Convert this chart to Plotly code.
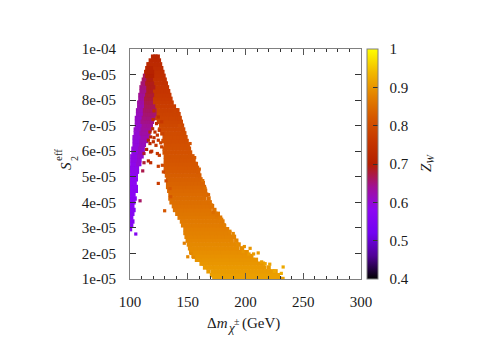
import plotly.graph_objects as go

# y values are in units of 1e-5
x_ticks = [100, 150, 200, 250, 300]
y_ticks = [1, 2, 3, 4, 5, 6, 7, 8, 9, 10]
y_labels = ['1e-05', '2e-05', '3e-05', '4e-05', '5e-05', '6e-05', '7e-05', '8e-05', '9e-05', '1e-04']
z_ticks = [0.4, 0.5, 0.6, 0.7, 0.8, 0.9, 1]
z_labels = ['\u00a0\u00a00.4', '\u00a0\u00a00.5', '\u00a0\u00a00.6', '\u00a0\u00a00.7', '\u00a0\u00a00.8', '\u00a0\u00a00.9', '\u00a0\u00a01']

# main band, one row of points per y level
band_y = [1.0, 1.15, 1.3, 1.45, 1.6, 1.75, 1.9, 2.05, 2.2, 2.35, 2.5, 2.65, 2.8, 2.95, 3.1, 3.25, 3.4, 3.55, 3.7, 3.85,
          4.0, 4.15, 4.3, 4.45, 4.6, 4.75, 4.9, 5.05, 5.2, 5.35, 5.5, 5.65, 5.8, 5.95, 6.1, 6.25, 6.4, 6.55, 6.7, 6.85,
          7.0, 7.15, 7.3, 7.45, 7.6, 7.75, 7.9, 8.05, 8.2, 8.35, 8.5, 8.65, 8.8, 8.95, 9.1, 9.25, 9.4, 9.55, 9.7]
band_z = [.912, .91, .907, .904, .901, .898, .895, .892, .889, .886, .883, .88, .877, .874, .871, .868, .865, .862, .859, .856,
          .853, .85, .847, .844, .841, .837, .833, .829, .826, .823, .82, .817, .814, .811, .808, .806, .804, .802, .799, .796,
          .792, .788, .784, .78, .776, .772, .768, .764, .76, .756, .752, .748, .744, .74, .736, .732, .727, .722, .715]
band_x = [
    [173, 176, 179, 182, 185, 188, 191, 194, 197, 200, 203, 206, 209, 212, 215, 218, 221, 224, 227, 230, 232],
    [171, 174, 177, 180, 183, 186, 189, 192, 195, 198, 201, 204, 207, 210, 213, 216, 219, 222, 225, 228],
    [168, 172, 175, 178, 181, 184, 187, 190, 193, 196, 199, 202, 205, 208, 211, 214, 217, 220, 223, 226],
    [165, 168, 171, 174, 177, 180, 183, 186, 189, 192, 195, 198, 201, 204, 207, 210, 213, 216, 220],
    [162, 164, 167, 170, 173, 176, 179, 182, 185, 188, 191, 194, 197, 200, 203, 206, 209, 212, 215],
    [158, 161, 164, 167, 170, 173, 176, 179, 182, 185, 188, 191, 194, 197, 200, 203, 206, 209],
    [155, 157, 160, 163, 166, 169, 172, 175, 178, 181, 184, 187, 190, 193, 196, 199, 202, 205],
    [153, 156, 159, 162, 165, 168, 171, 174, 177, 180, 183, 186, 189, 192, 195, 198, 201],
    [152, 154, 157, 160, 163, 166, 169, 172, 175, 178, 181, 184, 187, 190, 193, 197],
    [151, 153, 156, 159, 162, 165, 168, 171, 174, 177, 180, 183, 186, 189, 192, 194],
    [150, 152, 155, 158, 161, 164, 167, 170, 173, 176, 179, 182, 185, 188, 192],
    [149, 151, 154, 157, 160, 163, 166, 169, 172, 175, 178, 181, 184, 187, 190],
    [148, 150, 153, 156, 159, 162, 165, 168, 171, 174, 177, 180, 183, 186],
    [148, 151, 154, 157, 160, 163, 166, 169, 172, 175, 178, 181, 184],
    [146, 149, 152, 155, 158, 161, 164, 167, 170, 173, 176, 179, 181],
    [145, 147, 150, 153, 156, 159, 162, 165, 168, 171, 174, 177, 180],
    [143, 146, 149, 152, 155, 158, 161, 164, 167, 170, 173, 176, 178],
    [141, 144, 147, 150, 153, 156, 159, 162, 165, 168, 171, 174, 176],
    [139, 142, 145, 148, 151, 154, 157, 160, 163, 166, 169, 173],
    [138, 140, 143, 146, 149, 152, 155, 158, 161, 164, 167, 170, 171],
    [136, 139, 142, 145, 148, 151, 154, 157, 160, 163, 166, 169],
    [135, 137, 140, 143, 146, 149, 152, 155, 158, 161, 164, 168],
    [135, 138, 141, 144, 147, 150, 153, 156, 159, 162, 165, 166],
    [134, 136, 139, 142, 145, 148, 151, 154, 157, 160, 163, 165],
    [133, 135, 138, 141, 144, 147, 150, 153, 156, 159, 162, 164],
    [133, 136, 139, 142, 145, 148, 151, 154, 157, 160, 163],
    [133, 134, 137, 140, 143, 146, 149, 152, 155, 158, 161],
    [132, 135, 138, 141, 144, 147, 150, 153, 156, 159, 160],
    [131, 133, 136, 139, 142, 145, 148, 151, 154, 157, 159],
    [131, 134, 137, 140, 143, 146, 149, 152, 155, 158],
    [131, 132, 135, 138, 141, 144, 147, 150, 153, 156, 157],
    [131, 133, 136, 139, 142, 145, 148, 151, 154, 155],
    [131, 134, 137, 140, 143, 146, 149, 152, 154],
    [130, 132, 135, 138, 141, 144, 147, 150, 152],
    [130, 133, 136, 139, 142, 145, 148, 151],
    [131, 134, 137, 140, 143, 146, 149, 150],
    [129, 132, 135, 138, 141, 144, 147, 149],
    [130, 133, 136, 139, 142, 145, 148],
    [128, 131, 134, 137, 140, 143, 146, 147],
    [126, 129, 132, 135, 138, 141, 144, 146],
    [127, 130, 133, 136, 139, 142, 145],
    [125, 128, 131, 134, 137, 140, 143, 144],
    [123, 126, 129, 132, 135, 138, 141, 143],
    [124, 127, 130, 133, 136, 139, 142],
    [122, 125, 128, 131, 134, 137, 140, 141],
    [120, 123, 126, 129, 132, 135, 138],
    [118, 121, 124, 127, 130, 133, 136],
    [114, 117, 120, 123, 126, 129, 132, 135],
    [114, 115, 118, 121, 124, 127, 130, 133, 134],
    [114, 116, 119, 122, 125, 128, 131, 133],
    [114, 117, 120, 123, 126, 129, 132],
    [114, 115, 118, 121, 124, 127, 130, 131],
    [114, 116, 119, 122, 125, 128, 130],
    [114, 117, 120, 123, 126, 129],
    [114, 115, 118, 121, 124, 127, 128],
    [115, 116, 119, 122, 125, 127],
    [116, 117, 120, 123, 126],
    [118, 121, 123, 125],
    [120, 122, 124],
]

# left branch, violet inner part
left_y = [2.95, 3.1, 3.25, 3.4, 3.55, 3.7, 3.85, 4.0, 4.15, 4.3, 4.45, 4.6, 4.75, 4.9, 5.05, 5.2, 5.35, 5.5, 5.65, 5.8,
          5.95, 6.1, 6.25, 6.4, 6.55, 6.7, 6.85, 7.0, 7.15, 7.3, 7.45, 7.6, 7.75, 7.9, 8.05, 8.2, 8.35, 8.5, 8.65, 8.8, 8.95]
left_z = [.56, .56, .56, .565, .565, .565, .57, .57, .57, .575, .575, .575, .58, .58, .58, .585, .585, .585, .59, .59,
          .59, .595, .595, .595, .60, .60, .605, .605, .61, .61, .615, .62, .625, .63, .635, .64, .645, .65, .655, .66, .665]
left_x = [
    [100], [101], [100, 102], [101], [100, 102], [101, 103], [100, 102], [101, 103], [100, 102, 104], [101, 103],
    [100, 102, 105], [101, 103, 105], [100, 102, 104], [101, 103, 105], [101, 103, 105], [101, 103, 105, 106],
    [101, 104, 106], [102, 104, 106, 108], [102, 104, 106, 108], [102, 104, 106, 108], [103, 105, 107], [103, 105, 107, 109],
    [104, 106, 108, 110], [104, 106, 108], [104, 106, 108, 110], [105, 107, 109], [105, 107, 109], [106, 108, 110],
    [106, 108, 110], [106, 108, 110], [107, 109, 111], [107, 109, 111], [108, 110, 112], [108, 110, 112], [109, 111, 113],
    [109, 111, 113], [110, 112, 114], [110, 112, 114], [111, 113], [112, 114], [113, 115],
]

# left branch, magenta part next to the main band
mid_y = [5.5, 5.65, 5.8, 5.95, 6.1, 6.25, 6.4, 6.55, 6.7, 6.85, 7.0, 7.15, 7.3, 7.45, 7.6, 7.75, 7.9, 8.05, 8.2, 8.35, 8.5,
         8.65, 8.8, 8.95, 9.1, 9.25]
mid_z = [.60, .60, .605, .61, .61, .615, .62, .625, .63, .635, .64, .645, .65, .655, .66, .665, .67, .675, .68, .685, .69,
         .69, .695, .70, .705, .71]
mid_x = [
    [107], [108], [108, 110], [109, 111], [109, 111], [110, 112], [110, 112, 114], [111, 113, 115], [110, 112, 114, 116],
    [111, 113, 115, 117], [112, 114, 116, 118], [111, 113, 115, 117, 119], [112, 114, 116, 118, 120], [113, 115, 117, 119, 121],
    [113, 115, 117, 119, 121], [114, 116, 118, 120], [114, 116, 118], [114, 116, 118], [115, 117, 119], [116, 118],
    [116, 118, 120], [115, 117, 119], [116, 118], [115, 117, 119], [115, 117, 119], [116, 118],
]

# isolated points around the band
stray_x = [120.8, 124.5, 120, 123, 127.4, 119.6, 117.3, 121.6, 125.4, 117.9, 120.8, 123.7, 128.3, 115.9, 120.2, 124.5, 117.3,
           122.5, 126.6, 127.4, 114.4, 118.8, 123.7, 125.4, 112.1, 117.9, 115.9, 112.1, 117.9, 124.5, 128, 111, 128.9, 131.2,
           124.5, 134.6, 135.2, 108.7, 130, 105,
           165, 170.7, 172, 175, 178.5, 179.4, 182, 186.5, 189.4, 188, 193, 199, 204, 198, 203, 207, 211, 214, 217, 221,
           232.6, 231, 225, 150, 153, 155, 147, 163, 168, 160, 156, 152, 143, 139]
stray_y = [7.58, 7.34, 7.24, 7.08, 7.15, 6.88, 6.75, 6.75, 6.82, 6.56, 6.53, 6.63, 6.69, 6.43, 6.37, 6.43, 6.3,
           6.23, 6.33, 6.17, 6.07, 6.0, 5.91, 5.84, 5.91, 5.97, 5.62, 5.55, 5.55, 5.41, 5.45, 5.23, 5.19, 4.84,
           4.74, 4.54, 4.22, 4.06, 3.67, 2.76,
           4.55, 3.9, 3.6, 3.5, 3.3, 3.34, 3.1, 2.87, 2.78, 2.45, 2.35, 2.27, 2.2, 2.07, 1.98, 1.98, 2.02, 1.67, 1.6, 1.58,
           1.47, 1.22, 1.3, 1.87, 2.0, 1.85, 2.4, 4.85, 4.3, 5.3, 5.75, 6.3, 7.0, 7.55]
stray_z = [.73, .74, .73, .74, .76, .73, .72, .74, .76, .72, .73, .75, .78, .71, .74, .76, .72,
           .75, .78, .78, .70, .74, .76, .77, .68, .72, .72, .68, .73, .77, .79, .67, .79, .80,
           .77, .82, .82, .66, .82, .56,
           .85, .86, .85, .86, .87, .87, .875, .88, .885, .885, .89, .895, .90, .90, .905, .905, .905, .91, .915, .915,
           .92, .925, .92, .885, .885, .885, .875, .85, .84, .83, .82, .81, .80, .78]

palette = [[0, '#000000'], [0.1, '#500196'], [0.2, '#7202f2'], [0.3, '#8c07f2'], [0.4, '#a11096'], [0.5, '#b42000'],
           [0.6, '#c63700'], [0.7, '#d55700'], [0.8, '#e48300'], [0.9, '#f2ba00'], [1, '#ffff00']]

xs, ys, zs = [], [], []
for rows, levels, colors in [(band_x, band_y, band_z), (left_x, left_y, left_z), (mid_x, mid_y, mid_z)]:
    for row, level, color in zip(rows, levels, colors):
        for val in row:
            xs.append(val)
            ys.append(level * 1e-5)
            zs.append(color)
sizes = [4.4] * len(xs) + [3.2] * len(stray_x)
xs += stray_x
ys += [v * 1e-5 for v in stray_y]
zs += stray_z

font = 'Liberation Serif'
black = '#1a1a1a'
frame = '#808080'

fig = go.Figure(go.Scatter(
    x=xs, y=ys, mode='markers',
    marker=dict(
        symbol='square', size=sizes, opacity=1, line=dict(width=0),
        color=zs, cmin=0.4, cmax=1, colorscale=palette, showscale=True,
        colorbar=dict(
            x=1.025, xanchor='left', xpad=0, y=0.5, yanchor='middle', ypad=0, len=1, thickness=11,
            outlinecolor=frame, outlinewidth=1, bordercolor='rgba(0,0,0,0)',
            tickmode='array', tickvals=z_ticks, ticktext=z_labels, ticks='inside', ticklen=5,
            tickcolor='#333333', tickfont=dict(family=font, size=15, color=black),
        ),
    ),
))

fig.update_xaxes(
    range=[100, 300], tickmode='array', tickvals=x_ticks, ticks='inside', ticklen=6, tickcolor='#555555',
    minor=dict(ticks='inside', dtick=10, ticklen=3, tickcolor='#333333'),
    showgrid=False, zeroline=False, showline=True, linecolor=frame, linewidth=1, mirror='allticks',
    tickfont=dict(family=font, size=15, color=black), ticklabelstandoff=9,
)
fig.update_yaxes(
    range=[1e-5, 1e-4], tickmode='array', tickvals=[v * 1e-5 for v in y_ticks], ticktext=y_labels,
    ticks='inside', ticklen=6, tickcolor='#333333',
    showgrid=False, zeroline=False, showline=True, linecolor=frame, linewidth=1, mirror='allticks',
    tickfont=dict(family=font, size=15, color=black), ticklabelstandoff=10,
)


def note(text, px, py, size=15, angle=0):
    fig.add_annotation(text=text, xref='paper', yref='paper', x=(px - 130) / 231, y=(279 - py) / 230,
                       xanchor='center', yanchor='middle', showarrow=False, textangle=angle,
                       font=dict(family=font, size=size, color=black))


note('Δ<i>m</i>', 217, 323)
note('<i>χ</i>', 231, 327, 13)
note('±', 237, 321, 10)
note('(GeV)', 261, 323)
note('<i>S</i>', 66, 166, 15, -90)
note('eff', 58, 155, 11, -90)
note('2', 74, 159, 10, -90)
note('<i>Z<sub>W</sub></i>', 427, 163, 15, -90)

fig.update_layout(
    width=491, height=343, autosize=False, showlegend=False,
    margin=dict(l=130, r=130, t=49, b=64),
    paper_bgcolor='white', plot_bgcolor='white',
)

fig.write_html("out.html", post_script="document.body.style.margin='0';", config=dict(displayModeBar=False))
